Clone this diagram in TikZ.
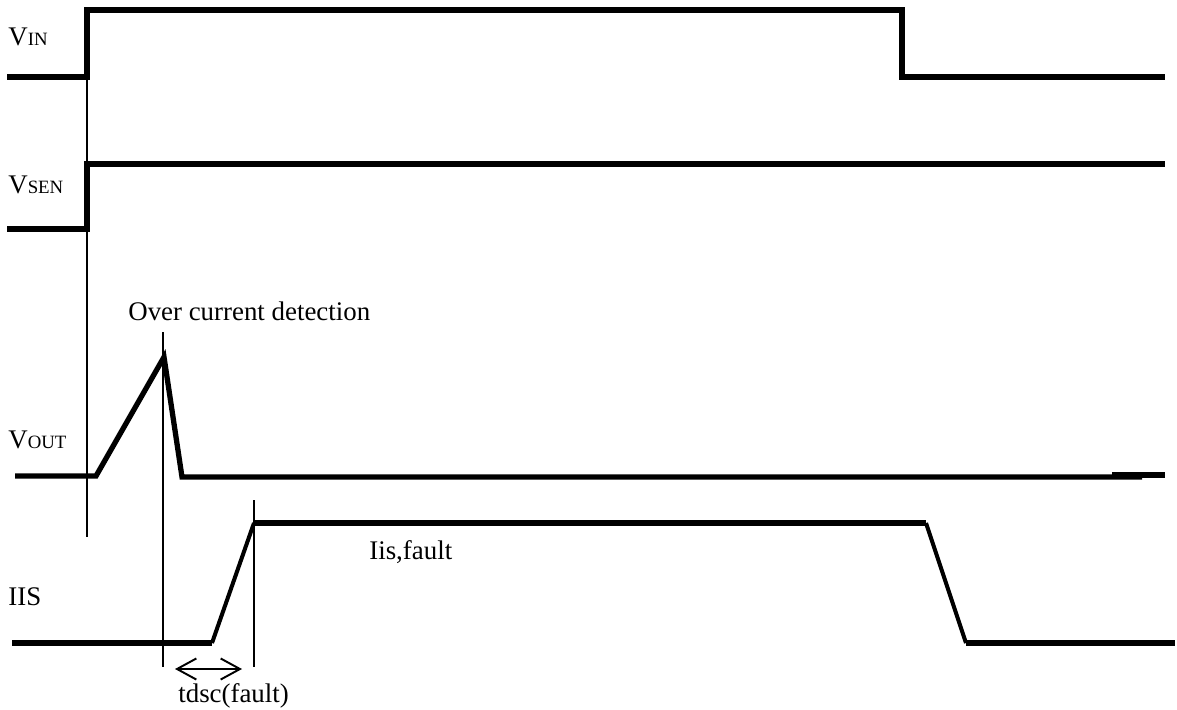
\documentclass[tikz,border=0pt]{standalone}
\usepackage{fontspec}
\setmainfont{Liberation Serif}
\usetikzlibrary{arrows.meta}
\newcommand{\sublbl}[2]{#1{\fontsize{10.7}{12}\selectfont #2}}
\tikzset{>={Straight Barb[length=11pt,width=12pt]},
  wave/.style={line width=3pt, line join=miter},
  ramp/.style={line width=2.3pt},
  guide/.style={line width=1.1pt},
  lbl/.style={anchor=base west, inner sep=0pt, font=\fontsize{15.3}{18}\selectfont}}

\begin{document}
\begin{tikzpicture}[x=0.02cm,y=-0.02cm]
  \useasboundingbox (0,0) rectangle (1177,710);

  % input and sense
  \draw[wave] (7,77) -- (87,77) -- (87,10) -- (902,10) -- (902,77) -- (1165,77);
  \node[lbl] (vin) at (8,45) {\sublbl{V}{IN}};
  \draw[wave] (7,229) -- (87,229) -- (87,164) -- (1165,164);
  \node[lbl] (vsen) at (8,193) {\sublbl{V}{SEN}};

  % output
  \draw[wave] (15,476) -- (96,476) -- (164,357) -- (182,477) -- (1142,477);
  \draw[wave] (1112,475) -- (1165,475);
  \node[lbl] (vout) at (8,448) {\sublbl{V}{OUT}};
  \node[lbl] (ocd) at (128,320) {Over current detection};

  % sense current
  \draw[wave] (12,643) -- (212,643);
  \draw[ramp] (212,643) -- (254,523);
  \draw[wave] (254,523) -- (926,523);
  \draw[ramp] (926,523) -- (966,643);
  \draw[wave] (966,643) -- (1175,643);
  \node[lbl] (iis) at (8,605) {IIS};
  \node[lbl] (iisf) at (369,559) {Iis,fault};

  % markers
  \draw[guide] (87,77) -- (87,537);
  \draw[guide] (163,332) -- (163,667);
  \draw[guide] (254,500) -- (254,667);
  \coordinate (ta) at (175,669);
  \coordinate (tb) at (242,669);
  \draw[guide,<->] (ta) -- (tb);
  \node[lbl] (tdsc) at (178,702) {tdsc(fault)};
\end{tikzpicture}
\end{document}
